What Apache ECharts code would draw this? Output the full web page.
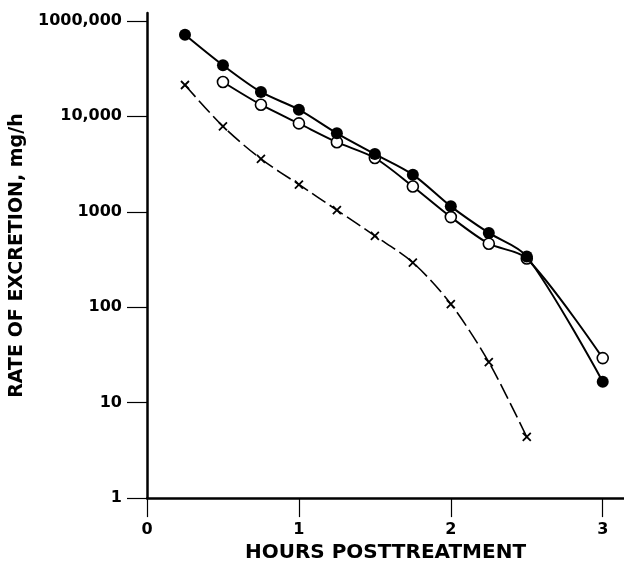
<!DOCTYPE html>
<html>
<head>
<meta charset="utf-8">
<script src="https://cdn.jsdelivr.net/npm/echarts@6/dist/echarts.min.js"></script>
<style>html,body{margin:0;padding:0;background:#fff;}#c{width:624px;height:568px;}</style>
</head>
<body>
<div id="c"></div>
<script>
// Data
const filledHours = [0.25, 0.5, 0.75, 1, 1.25, 1.5, 1.75, 2, 2.25, 2.5, 3];
const filledRate  = [71600, 34300, 18000, 11750, 6640, 4030, 2450, 1140, 600, 340, 16.6];
const openHours   = [0.5, 0.75, 1, 1.25, 1.5, 1.75, 2, 2.25, 2.5, 3];
const openRate    = [22900, 13240, 8430, 5360, 3660, 1840, 880, 463, 324, 29.3];
const crossHours  = [0.25, 0.5, 0.75, 1, 1.25, 1.5, 1.75, 2, 2.25, 2.5];
const crossRate   = [21300, 7850, 3580, 1930, 1040, 560, 294, 108, 26.6, 4.37];
const xTickValues = [0, 1, 2, 3];
const yTickValues = [1, 10, 100, 1000, 10000, 100000];
const yTickLabels = ['1', '10', '100', '1000', '10,000', '1000,000'];
const xTitle = 'HOURS POSTTREATMENT';
const yTitle = 'RATE OF EXCRETION, mg/h';

const pair = (xs, ys) => xs.map((x, i) => [x, ys[i]]);
const FONT = 'DejaVu Sans';
const chart = echarts.init(document.getElementById('c'), null, {renderer: 'canvas'});
chart.setOption({
  animation: false,
  backgroundColor: '#fff',
  grid: {left: 143, right: 0, top: 13, bottom: 63},
  xAxis: {
    type: 'value', min: 0, max: 3.14,
    name: xTitle, nameLocation: 'middle', nameGap: 38,
    nameTextStyle: {fontFamily: FONT, fontWeight: 'bold', fontSize: 20, color: '#000'},
    axisLine: {show: true, onZero: false, lineStyle: {color: '#000', width: 2.5}},
    axisTick: {show: true, inside: false, length: 19, customValues: xTickValues, lineStyle: {color: '#000', width: 1.2}},
    axisLabel: {show: true, margin: 24, customValues: xTickValues, fontFamily: FONT, fontWeight: 'bold', fontSize: 16, color: '#000',
      formatter: v => String(v)},
    splitLine: {show: false}
  },
  yAxis: {
    type: 'log', logBase: 10, min: 1, max: 121000,
    name: yTitle, nameLocation: 'middle', nameGap: 120, nameRotate: 90,
    nameTextStyle: {fontFamily: FONT, fontWeight: 'bold', fontSize: 19, color: '#000'},
    axisLine: {show: true, onZero: false, lineStyle: {color: '#000', width: 2.5}},
    axisTick: {show: true, inside: false, length: 20, customValues: yTickValues, lineStyle: {color: '#000', width: 1.2}},
    axisLabel: {show: true, margin: 25, customValues: yTickValues, fontFamily: FONT, fontWeight: 'bold', fontSize: 16, color: '#000',
      formatter: v => { const i = yTickValues.findIndex(t => Math.abs(t - v) / t < 1e-6); return i >= 0 ? yTickLabels[i] : ''; }},
    splitLine: {show: false}
  },
  series: [
    {
      type: 'line', name: 'cross', data: pair(crossHours, crossRate), smooth: 0.3,
      lineStyle: {color: '#000', width: 1.6, type: [16, 5]},
      symbol: 'path://M0,0L10,10M10,0L0,10', symbolSize: 8,
      itemStyle: {color: 'none', borderColor: '#000', borderWidth: 1.8},
      z: 2
    },
    {
      type: 'line', name: 'open', data: pair(openHours, openRate), smooth: 0.3,
      lineStyle: {color: '#000', width: 2},
      symbol: 'circle', symbolSize: 11,
      itemStyle: {color: '#fff', borderColor: '#000', borderWidth: 1.6},
      z: 3
    },
    {
      type: 'line', name: 'filled', data: pair(filledHours, filledRate), smooth: 0.3,
      lineStyle: {color: '#000', width: 2},
      symbol: 'circle', symbolSize: 12,
      itemStyle: {color: '#000', borderColor: '#000', borderWidth: 0},
      z: 4
    }
  ]
});
</script>
</body>
</html>
